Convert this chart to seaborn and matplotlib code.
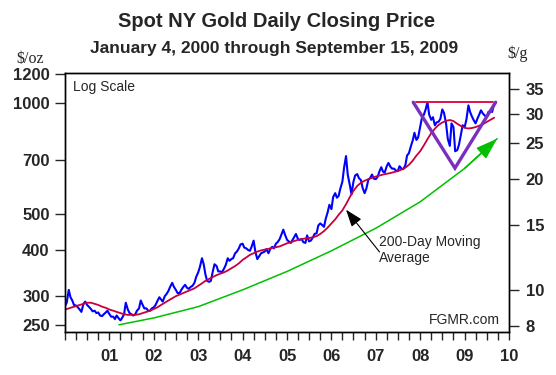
import pandas as pd
import matplotlib.pyplot as plt
import matplotlib.dates as mdates
import seaborn as sns

# Precio spot del oro (USD/oz), valores quincenales
p2000 = [282, 288, 312, 298, 292, 284, 283, 280, 276, 272, 286, 290, 284, 281, 277, 273, 274, 270, 271, 266, 265, 268, 271, 274]
p2001 = [268, 264, 264, 260, 266, 262, 258, 262, 268, 288, 276, 270, 268, 266, 268, 274, 278, 292, 284, 278, 278, 274, 274, 278]
p2002 = [280, 284, 292, 298, 294, 290, 300, 304, 310, 318, 326, 318, 312, 306, 306, 312, 318, 322, 316, 314, 318, 320, 326, 338]
p2003 = [348, 360, 380, 366, 344, 330, 328, 330, 350, 366, 362, 350, 350, 348, 356, 364, 380, 374, 378, 380, 392, 396, 404, 414]
p2004 = [416, 406, 404, 400, 398, 408, 424, 396, 378, 384, 392, 394, 396, 402, 392, 402, 408, 404, 416, 420, 428, 440, 454, 440]
p2005 = [426, 422, 418, 426, 434, 442, 428, 426, 428, 420, 418, 438, 422, 424, 432, 442, 444, 466, 472, 468, 462, 486, 506, 530]
p2006 = [516, 556, 570, 554, 560, 586, 612, 668, 718, 640, 600, 566, 612, 636, 642, 626, 618, 588, 570, 586, 620, 626, 640, 624]
p2007 = [622, 630, 654, 670, 652, 648, 674, 688, 672, 664, 664, 656, 654, 674, 664, 662, 678, 720, 732, 760, 792, 830, 794, 806]
p2008 = [860, 910, 930, 960, 1005, 930, 900, 915, 870, 885, 890, 905, 960, 940, 880, 800, 765, 880, 860, 740, 745, 770, 820, 870]
p2009 = [860, 900, 985, 945, 920, 900, 880, 905, 930, 955, 935, 925, 915, 945, 950, 945, 995, 1005]

# Media movil de 200 dias (valor a inicio de cada mes)
ma2000 = [276, 278, 280, 282, 284, 286, 288, 288, 286, 284, 281, 279]
ma2001 = [276, 274, 272, 270, 268, 267, 267, 267, 268, 270, 272, 274]
ma2002 = [277, 280, 284, 288, 292, 296, 300, 303, 306, 309, 312, 315]
ma2003 = [320, 325, 330, 334, 338, 342, 345, 348, 352, 357, 362, 368]
ma2004 = [376, 382, 388, 392, 396, 399, 401, 403, 405, 407, 409, 413]
ma2005 = [417, 420, 423, 426, 428, 430, 431, 433, 436, 442, 450, 460]
ma2006 = [472, 484, 498, 512, 532, 556, 578, 596, 608, 616, 622, 627]
ma2007 = [632, 636, 640, 643, 646, 650, 654, 660, 668, 680, 698, 720]
ma2008 = [740, 768, 798, 828, 852, 872, 885, 894, 899, 893, 878, 866]
ma2009 = [856, 853, 855, 860, 868, 876, 888, 900, 912]

# Curva de tendencia (verde)
green_dates = ["2001-03-20", "2002-01-01", "2003-01-01", "2004-01-01", "2005-01-01",
               "2006-01-01", "2007-01-01", "2008-01-01", "2009-01-01", "2009-09-25"]
green_vals = [251, 262, 281, 312, 350, 398, 458, 540, 665, 800]

# Triangulo (purpura) y resistencia (roja)
tri_dates = ["2007-11-05", "2008-10-13", "2009-09-13"]
tri_vals = [1004, 666, 1004]
res_dates = ["2007-12-01", "2009-08-19"]
res_vals = [1007, 1007]

left_ticks = [250, 300, 400, 500, 700, 1000, 1200]
right_ticks = [8, 10, 15, 20, 25, 30, 35]
OZ_TO_G = 31.1035

price = p2000 + p2001 + p2002 + p2003 + p2004 + p2005 + p2006 + p2007 + p2008 + p2009
ma = ma2000 + ma2001 + ma2002 + ma2003 + ma2004 + ma2005 + ma2006 + ma2007 + ma2008 + ma2009
price_dates = pd.date_range("2000-01-01", "2009-09-15", freq="SMS")
ma_dates = pd.date_range("2000-01-01", "2009-09-01", freq="MS")

sns.set_style("ticks")
plt.rcParams["font.family"] = ["Liberation Sans", "DejaVu Sans"]

fig = plt.figure(figsize=(5.56, 3.75), dpi=100)
ax = fig.add_axes([0.1169, 0.1147, 0.7986, 0.6907])

sns.lineplot(x=price_dates, y=price, ax=ax, color="#0000FF", lw=1.5)
sns.lineplot(x=ma_dates, y=ma, ax=ax, color="#C8003C", lw=1.3)
sns.lineplot(x=pd.to_datetime(green_dates), y=green_vals, ax=ax, color="#00C000", lw=1.1)
sns.lineplot(x=pd.to_datetime(res_dates), y=res_vals, ax=ax, color="#E0104A", lw=1.4)
ax.plot(pd.to_datetime(tri_dates), tri_vals, color="#7B2FBE", lw=2.4, solid_joinstyle="miter")

# Punta de flecha verde
gd = pd.to_datetime(green_dates)
ax.annotate("", xy=(gd[-1], green_vals[-1]), xytext=(gd[-2], green_vals[-2]),
            arrowprops=dict(arrowstyle="-|>,head_length=0.95,head_width=0.32",
                            mutation_scale=14, color="#00C000", lw=1.1,
                            shrinkA=0, shrinkB=0))

# Flecha de la media movil
ax.annotate("", xy=(pd.Timestamp("2006-05-01"), 514), xytext=(pd.Timestamp("2007-02-01"), 395),
            arrowprops=dict(arrowstyle="-|>,head_length=0.75,head_width=0.27",
                            mutation_scale=14, color="black", lw=0.8,
                            shrinkA=0, shrinkB=0))
ax.text(0.707, 0.315, "200-Day Moving\nAverage", transform=ax.transAxes,
        ha="left", va="center", fontsize=10)
ax.text(0.019, 0.947, "Log Scale", transform=ax.transAxes, ha="left", va="center", fontsize=10)
ax.text(0.98, 0.046, "FGMR.com", transform=ax.transAxes, ha="right", va="center", fontsize=10)

ylo, yhi = 240, 1205
ax.set_yscale("log")
ax.set_ylim(ylo, yhi)
ax.set_yticks(left_ticks)
ax.set_yticklabels([str(t) for t in left_ticks])
ax.yaxis.set_minor_locator(plt.NullLocator())

ax.set_xlim(pd.Timestamp("2000-01-01"), pd.Timestamp("2010-01-01"))
ax.xaxis.set_major_locator(mdates.YearLocator())
ax.xaxis.set_minor_locator(mdates.MonthLocator(bymonth=[4, 7, 10]))
ax.xaxis.set_major_formatter(plt.FuncFormatter(
    lambda v, p: "" if mdates.num2date(v).year == 2000 else mdates.num2date(v).strftime("%y")))
ax.set_xlabel("")
ax.set_ylabel("")

ax2 = ax.twinx()
ax2.set_yscale("log")
ax2.set_ylim(ylo / OZ_TO_G, yhi / OZ_TO_G)
ax2.set_yticks(right_ticks)
ax2.set_yticklabels([str(t) for t in right_ticks])
ax2.yaxis.set_minor_locator(plt.NullLocator())

for a in (ax, ax2):
    for s in a.spines.values():
        s.set_visible(True)
        s.set_color("black")
        s.set_linewidth(1.0)
ax.tick_params(axis="x", which="both", direction="out", length=6, width=1, pad=6)
ax.tick_params(axis="y", which="major", direction="out", length=7, width=1, pad=4)
ax2.tick_params(axis="y", which="major", direction="out", length=7, width=1, pad=5)
for lab in ax.get_xticklabels() + ax.get_yticklabels() + ax2.get_yticklabels():
    lab.set_fontweight("bold")
    lab.set_fontsize(12)

fig.text(0.498, 1 - 21.7 / 375, "Spot NY Gold Daily Closing Price", ha="center", va="center",
         fontsize=14.5, fontweight="bold")
fig.text(0.493, 1 - 48 / 375, "January 4, 2000 through September 15, 2009", ha="center",
         va="center", fontsize=12.5, fontweight="bold")
fig.text(30 / 556, 1 - 63 / 375, "$/oz", ha="center", va="baseline", fontsize=11.5,
         family="Liberation Serif")
fig.text(518 / 556, 1 - 58 / 375, "$/g", ha="center", va="baseline", fontsize=11.5,
         family="Liberation Serif")

fig.savefig("out.png", dpi=100, facecolor="white")
